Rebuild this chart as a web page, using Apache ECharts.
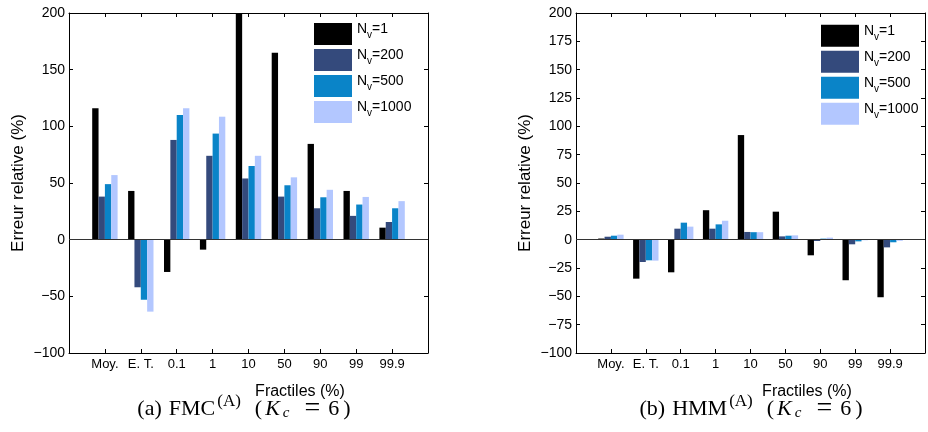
<!DOCTYPE html>
<html>
<head>
<meta charset="utf-8">
<script src="https://cdn.jsdelivr.net/npm/echarts@6/dist/echarts.min.js"></script>
<style>html,body{margin:0;padding:0;background:#fff;}#c{width:928px;height:432px;}</style>
</head>
<body>
<div id="c"></div>
<script>
// ---- data ----
const categories = ['Moy.', 'E. T.', '0.1', '1', '10', '50', '90', '99', '99.9'];
const seriesNames = ['Nv=1', 'Nv=200', 'Nv=500', 'Nv=1000'];
// (a) FMC
const fmc_nv1    = [116, 43, -28.5, -8.8, 200, 165, 84.5, 43, 10.6];
const fmc_nv200  = [38, -42, 88, 74, 54, 38, 27.7, 21, 15.6];
const fmc_nv500  = [49, -53, 110, 93.6, 65, 48, 37.4, 31, 27.7];
const fmc_nv1000 = [57, -63.5, 116, 108.5, 74, 55, 44, 37.7, 34];
// (b) HMM
const hmm_nv1    = [1, -34.4, -28.8, 26, 92.3, 24.7, -13.8, -35.8, -50.8];
const hmm_nv200  = [2.6, -19.7, 9.7, 9.7, 6.8, 2.9, -1.2, -4.1, -6.8];
const hmm_nv500  = [3.5, -18.2, 15, 13.5, 6.6, 3.5, 0.9, -1.5, -2.3];
const hmm_nv1000 = [4.4, -18.5, 11.5, 16.7, 6.6, 3.8, 1.8, -0.5, -1];
const yTicksLeft = {min: -100, max: 200, interval: 50};
const yTicksRight = {min: -100, max: 200, interval: 25};

const colors = ['#000000', '#344a7c', '#0a84c8', '#b3c7ff'];
const catsPadded = [''].concat(categories, ['']);
const pad = arr => [null].concat(arr, [null]);

const axisFont = 'Liberation Sans, Arial, sans-serif';
const serif = 'Liberation Serif, serif';
const minus = v => String(v).replace('-', '\u2212');

function xAxes(gi) {
  const base = {
    gridIndex: gi, type: 'category', data: catsPadded, boundaryGap: false,
    axisLine: {show: true, onZero: false, lineStyle: {color: '#000', width: 1}},
    axisTick: {show: true, inside: true, length: 4, lineStyle: {color: '#000'},
      interval: (i) => i > 0 && i < catsPadded.length - 1},
    splitLine: {show: false}
  };
  return [
    Object.assign({}, base, {position: 'bottom',
      axisLabel: {show: true, fontSize: 13, fontFamily: axisFont, color: '#000', margin: 5, interval: 0}}),
    Object.assign({}, base, {position: 'top', axisLabel: {show: false}})
  ];
}
function yAxes(gi, t) {
  const base = {
    gridIndex: gi, type: 'value', min: t.min, max: t.max, interval: t.interval,
    axisLine: {show: true, onZero: false, lineStyle: {color: '#000', width: 1}},
    axisTick: {show: true, inside: true, length: 4, lineStyle: {color: '#000'}},
    splitLine: {show: false}
  };
  return [
    Object.assign({}, base, {position: 'left',
      name: 'Erreur relative (%)', nameLocation: 'middle', nameGap: 42, nameRotate: 90,
      nameTextStyle: {fontSize: 17, fontFamily: axisFont, color: '#000'},
      axisLabel: {show: true, fontSize: 14, fontFamily: axisFont, color: '#000', margin: 4, formatter: minus}}),
    Object.assign({}, base, {position: 'right', axisLabel: {show: false}})
  ];
}

const groups = [
  [fmc_nv1, fmc_nv200, fmc_nv500, fmc_nv1000],
  [hmm_nv1, hmm_nv200, hmm_nv500, hmm_nv1000]
];
const series = [];
groups.forEach((g, gi) => {
  g.forEach((arr, si) => {
    const s = {
      type: 'bar', name: seriesNames[si], xAxisIndex: gi * 2, yAxisIndex: gi * 2,
      data: pad(arr), barWidth: 6.35, barGap: '0%',
      itemStyle: {color: colors[si]}, silent: true
    };
    if (si === 0) {
      s.markLine = {silent: true, symbol: 'none', label: {show: false},
        lineStyle: {color: '#333', width: 1, type: 'solid'}, data: [{yAxis: 0}]};
    }
    series.push(s);
  });
});

const legendRich = {
  n: {fontSize: 14, fontFamily: axisFont, color: '#000', lineHeight: 16, padding: [0, 0, 10, 0]},
  s: {fontSize: 10, fontFamily: axisFont, color: '#000', lineHeight: 10, padding: [3, 0, 0, 0]}
};
const legendFmt = name => '{n|N}{s|v}{n|' + name.slice(2) + '}';
function legend(left, top) {
  return {data: seriesNames, orient: 'vertical', left: left, top: top, icon: 'rect',
    itemWidth: 38, itemHeight: 22, itemGap: 2, selectedMode: false,
    formatter: legendFmt, textStyle: {rich: legendRich}};
}

const rs = (extra) => Object.assign({fontSize: 22, fontFamily: serif, color: '#000', lineHeight: 26}, extra || {});
const capRich = {
  r: rs(),
  name: rs({padding: [0, 0, 0, 7]}),
  sup: rs({fontSize: 17, lineHeight: 17, padding: [0, 0, 14, 2]}),
  op: rs({padding: [0, 0, 0, 14]}),
  k: rs({fontStyle: 'italic', padding: [0, 0, 0, 3]}),
  sub: rs({fontSize: 15, fontStyle: 'italic', lineHeight: 15, padding: [8, 0, 0, 3]}),
  eq: rs({fontSize: 28, padding: [0, 0, 0, 15]}),
  six: rs({padding: [0, 0, 0, 8]}),
  cl: rs({padding: [0, 0, 0, 4]})
};
function caption(x, label, name) {
  return {type: 'text', x: x, y: 409, style: {
    text: '{r|(' + label + ')}{name|' + name + '}{sup|(A)}{op|(}{k|K}{sub|c}{eq|=}{six|6}{cl|)}',
    rich: capRich, align: 'center', verticalAlign: 'middle'}};
}
function xTitle(x) {
  return {type: 'text', x: x, y: 392, style: {text: 'Fractiles (%)', fontSize: 16,
    fontFamily: axisFont, fill: '#000', align: 'center', verticalAlign: 'middle'}};
}

const option = {
  animation: false,
  backgroundColor: '#fff',
  grid: [
    {left: 69, top: 13, width: 359, height: 340, containLabel: false},
    {left: 576, top: 13, width: 359, height: 340, containLabel: false}
  ],
  xAxis: xAxes(0).concat(xAxes(1)),
  yAxis: yAxes(0, yTicksLeft).concat(yAxes(1, yTicksRight)),
  legend: [legend(309, 17), legend(816, 18.7)],
  series: series,
  graphic: [xTitle(300), xTitle(807), caption(244, 'a', 'FMC'), caption(751, 'b', 'HMM')]
};
const chart = echarts.init(document.getElementById('c'), null, {renderer: 'canvas'});
chart.setOption(option);
</script>
</body>
</html>
